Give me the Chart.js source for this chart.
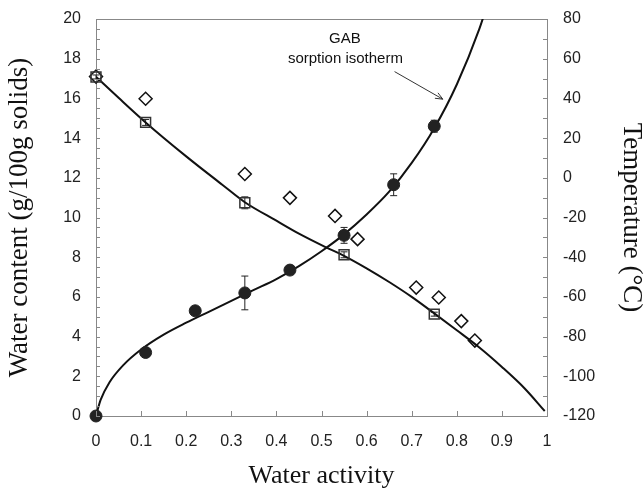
<!DOCTYPE html>
<html>
<head>
<meta charset="utf-8">
<script src="https://cdn.jsdelivr.net/npm/chart.js@4/dist/chart.umd.min.js"></script>
<style>
  body { margin: 0; background: #fff; }
  #wrap { width: 644px; height: 488px; }
</style>
</head>
<body>
<div id="wrap"><canvas id="chart"></canvas></div>
<script>
// measured water content (filled circles, left axis)
const awWater = [0, 0.11, 0.22, 0.33, 0.43, 0.55, 0.66, 0.75];
const waterContent = [0, 3.2, 5.3, 6.2, 7.35, 9.1, 11.65, 14.6];
const waterErr = [0, 0, 0, 0.85, 0, 0.4, 0.55, 0.3];

// GAB sorption isotherm
const awGab = [0, 0.01, 0.03, 0.06, 0.1, 0.15, 0.2, 0.25, 0.3, 0.35, 0.4, 0.45, 0.5, 0.55, 0.6, 0.65, 0.7, 0.75, 0.8, 0.85, 0.87];
const gabContent = [0, 0.8, 1.7, 2.55, 3.35, 4.1, 4.7, 5.25, 5.8, 6.35, 6.9, 7.55, 8.3, 9.15, 10.15, 11.3, 12.75, 14.5, 16.7, 19.5, 20.9];

// glass transition (open squares, right axis)
const awTg = [0, 0.11, 0.33, 0.55, 0.75];
const tgTemp = [50.8, 27.9, -12.6, -38.8, -68.7];
const tgErr = [1, 1.5, 3, 1.5, 1];

// second temperature series (open diamonds, right axis)
const awDia = [0, 0.11, 0.33, 0.43, 0.53, 0.58, 0.71, 0.76, 0.81, 0.84];
const diaTemp = [51, 39.8, 1.9, -10.1, -19.2, -30.9, -55.3, -60.3, -72.2, -82];

// Tg fitted curve
const awTgFit = [0, 0.05, 0.11, 0.2, 0.28, 0.33, 0.4, 0.45, 0.51, 0.55, 0.6, 0.65, 0.7, 0.75, 0.8, 0.85, 0.9, 0.95, 0.995];
const tgFit = [50.9, 40.3, 27.9, 10.8, -3.5, -12.3, -21.6, -28.1, -35, -39.3, -45.6, -52.5, -60, -68.3, -76.8, -85.5, -95.3, -106, -117.5];

const toXY = (xs, ys) => xs.map((x, i) => ({ x, y: ys[i] }));

const tickFont = { family: 'Liberation Sans', size: 16 };
const axisGray = '#888';

const errorBars = {
  id: 'errorBars',
  beforeDatasetsDraw(chart) {
    const ctx = chart.ctx;
    chart.data.datasets.forEach(ds => {
      if (!ds.errors) return;
      const xs = chart.scales.x;
      const ys = chart.scales[ds.yAxisID];
      ctx.save();
      ctx.strokeStyle = '#222';
      ctx.lineWidth = 1;
      ds.data.forEach((p, j) => {
        const e = ds.errors[j];
        if (!e) return;
        const px = xs.getPixelForValue(p.x);
        const top = ys.getPixelForValue(p.y + e);
        const bot = ys.getPixelForValue(p.y - e);
        ctx.beginPath();
        ctx.moveTo(px, top); ctx.lineTo(px, bot);
        ctx.moveTo(px - 3.5, top); ctx.lineTo(px + 3.5, top);
        ctx.moveTo(px - 3.5, bot); ctx.lineTo(px + 3.5, bot);
        ctx.stroke();
      });
      ctx.restore();
    });
  }
};

const innerTicks = {
  id: 'innerTicks',
  afterDraw(chart) {
    const { ctx, chartArea: a, scales } = chart;
    ctx.save();
    ctx.strokeStyle = axisGray;
    ctx.lineWidth = 1;
    ctx.beginPath();
    for (let v = 0; v <= 20; v += 0.5) {
      const y = Math.round(scales.y.getPixelForValue(v)) + 0.5;
      ctx.moveTo(a.left, y); ctx.lineTo(a.left + 4, y);
    }
    for (let v = -120; v <= 80; v += 10) {
      const y = Math.round(scales.y2.getPixelForValue(v)) + 0.5;
      ctx.moveTo(a.right - 4, y); ctx.lineTo(a.right, y);
    }
    for (let k = 0; k <= 10; k++) {
      const x = Math.round(scales.x.getPixelForValue(k / 10)) + 0.5;
      ctx.moveTo(x, a.bottom); ctx.lineTo(x, a.bottom - 5);
    }
    ctx.stroke();
    ctx.restore();
  }
};

const gabNote = {
  id: 'gabNote',
  afterDatasetsDraw(chart) {
    const { ctx, scales: { x, y } } = chart;
    ctx.save();
    ctx.fillStyle = '#111';
    ctx.font = '15px "Liberation Sans"';
    ctx.textAlign = 'center';
    ctx.textBaseline = 'middle';
    ctx.fillText('GAB', x.getPixelForValue(0.552), y.getPixelForValue(19.0));
    ctx.fillText('sorption isotherm', x.getPixelForValue(0.553), y.getPixelForValue(18.0));
    const x1 = x.getPixelForValue(0.662), y1 = y.getPixelForValue(17.35);
    const x2 = x.getPixelForValue(0.769), y2 = y.getPixelForValue(15.96);
    const ang = Math.atan2(y2 - y1, x2 - x1);
    ctx.strokeStyle = '#333';
    ctx.lineWidth = 1;
    ctx.beginPath();
    ctx.moveTo(x1, y1); ctx.lineTo(x2, y2);
    ctx.moveTo(x2 - 8 * Math.cos(ang - 0.4), y2 - 8 * Math.sin(ang - 0.4));
    ctx.lineTo(x2, y2);
    ctx.lineTo(x2 - 8 * Math.cos(ang + 0.4), y2 - 8 * Math.sin(ang + 0.4));
    ctx.stroke();
    ctx.restore();
  }
};

// vertical axes: fixed width, and no extra top/bottom padding from the tick labels
const fixWidth = w => s => { s.width = w; s.paddingTop = 0; s.paddingBottom = 0; };

new Chart(document.getElementById('chart'), {
  type: 'scatter',
  data: {
    datasets: [
      {
        data: toXY(awWater, waterContent), errors: waterErr, yAxisID: 'y',
        pointStyle: 'circle', pointRadius: 6, backgroundColor: '#222', borderColor: '#222', clip: false
      },
      {
        data: toXY(awTg, tgTemp), errors: tgErr, yAxisID: 'y2',
        pointStyle: 'rect', pointRadius: 7, backgroundColor: 'rgba(0,0,0,0)',
        borderColor: '#333', borderWidth: 1.5, clip: false
      },
      {
        data: toXY(awDia, diaTemp), yAxisID: 'y2',
        pointStyle: 'rectRot', pointRadius: 6.5, backgroundColor: 'rgba(0,0,0,0)',
        borderColor: '#111', borderWidth: 1.5, clip: false
      },
      {
        data: toXY(awGab, gabContent), yAxisID: 'y', showLine: true,
        pointRadius: 0, borderColor: '#111', borderWidth: 2, cubicInterpolationMode: 'monotone'
      },
      {
        data: toXY(awTgFit, tgFit), yAxisID: 'y2', showLine: true,
        pointRadius: 0, borderColor: '#111', borderWidth: 2, cubicInterpolationMode: 'monotone'
      }
    ]
  },
  options: {
    responsive: true,
    maintainAspectRatio: false,
    animation: false,
    events: [],
    layout: { padding: { top: 19, left: 0, right: 0, bottom: 0 } },
    plugins: { legend: { display: false }, tooltip: { enabled: false } },
    scales: {
      x: {
        type: 'linear', position: 'bottom', min: 0, max: 1,
        grid: { display: false, drawTicks: false },
        border: { color: axisGray, width: 1 },
        ticks: { stepSize: 0.1, padding: 16, color: '#222', font: tickFont, maxRotation: 0,
          callback: v => String(+v.toFixed(1)) },
        title: {
          display: true, text: 'Water activity', color: '#111',
          font: { family: 'Liberation Serif', size: 26, lineHeight: 1 },
          padding: { top: 0, bottom: -1 }
        },
        afterFit: s => { s.height = 72; }
      },
      x2: {
        type: 'linear', position: 'top', min: 0, max: 1,
        grid: { display: false, drawTicks: false },
        border: { color: axisGray, width: 1 },
        ticks: { display: false },
        afterFit: s => { s.height = 0; }
      },
      y: {
        type: 'linear', position: 'left', min: 0, max: 20,
        grid: { display: false, drawTicks: false },
        border: { color: axisGray, width: 1 },
        ticks: { stepSize: 2, padding: 15, color: '#222', font: tickFont },
        title: {
          display: true, text: 'Water content (g/100g solids)', color: '#111',
          font: { family: 'Liberation Serif', size: 27, lineHeight: 1 },
          padding: { top: 6.5, bottom: 0 }
        },
        afterFit: fixWidth(96)
      },
      y2: {
        type: 'linear', position: 'right', min: -120, max: 80,
        grid: { display: false, drawTicks: false },
        border: { color: axisGray, width: 1 },
        ticks: { stepSize: 20, padding: 16, color: '#222', font: tickFont },
        title: {
          display: true, text: 'Temperature (°C)', color: '#111',
          font: { family: 'Liberation Serif', size: 27, lineHeight: 1 },
          padding: { top: -0.5, bottom: 0 }
        },
        afterFit: fixWidth(97)
      }
    }
  },
  plugins: [errorBars, innerTicks, gabNote]
});
</script>
</body>
</html>
